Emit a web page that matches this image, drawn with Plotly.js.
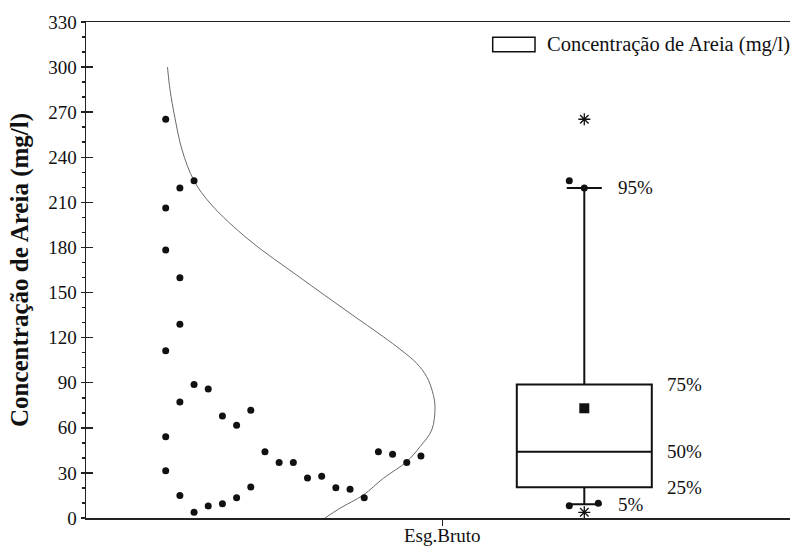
<!DOCTYPE html>
<html>
<head>
<meta charset="utf-8">
<script src="https://cdn.plot.ly/plotly-3.0.1.min.js"></script>
<style>html,body{margin:0;padding:0;background:#fff;}#chart{width:790px;height:547px;}</style>
</head>
<body>
<div id="chart"></div>
<script>
// ---- data ----
const category = "Esg.Bruto";
const seriesName = "Concentração de Areia (mg/l)";
// individual measurements (column index of the side-by-side arrangement, value in mg/l)
const pointCol = [0,1,2,0,0,1,1,0,2,3,1,4,5,6,0,7,8,9,10,11,12,13,14,15,16,17,18,0,1,2,3,4,5,6];
const pointVal = [265.3,219.6,224.4,206.3,178.3,159.9,128.9,111.3,88.9,85.8,77.2,67.9,61.7,71.7,54.1,44.1,37.0,37.0,26.6,27.7,20.2,19.1,13.5,44.1,42.4,37.0,41.2,31.5,14.9,3.8,8.0,9.5,13.5,20.6];
// normal distribution curve (value, horizontal extent in px from plot left)
const curveVal = [300,285,266,245,224.4,208.7,185,160.5,136.2,120.6,111.8,102.9,94,84,74,58.5,47.4,37.5,26.4,15.3,6.5,0];
const curveExt = [81.5,84,89,96,108,125,163,213,264,297.3,315,330.7,340.7,346.5,349,345.7,334,320.7,297.3,277.3,254,239];
// box statistics
const p5 = 9.1, q1 = 20.4, median = 44.1, q3 = 88.9, p95 = 219.6, meanVal = 73.0;
const extremeVals = [265.3, 3.8];            // max / min (asterisks)
const sideDotVals = [224.4, 219.6, 8.2, 9.8]; // points at whisker ends
const sideDotOff = [-15, 0, -15, 14];
const pctLabels = ["95%","75%","50%","25%","5%"];
const pctVals = [p95, q3, median, q1, p5];
const yTicks = [0,30,60,90,120,150,180,210,240,270,300,330];

// ---- layout constants (x axis in px-like units across the plot) ----
const col0 = 79.7, colStep = 14.18;
const catX = 356.5, boxX = 498.3, boxW = 135;
const serif = "Liberation Serif, Times New Roman, serif";

const traces = [
  {
    type: "scatter", mode: "lines",
    x: curveExt, y: curveVal,
    line: {color: "#6a6a6a", width: 1, shape: "spline", smoothing: 1},
    hoverinfo: "skip", showlegend: false
  },
  {
    type: "scatter", mode: "markers",
    x: pointCol.map(c => col0 + c * colStep), y: pointVal,
    marker: {color: "#111", size: 7, symbol: "circle"},
    showlegend: false
  },
  {
    type: "box", name: seriesName,
    x: [boxX], q1: [q1], median: [median], q3: [q3],
    lowerfence: [p5], upperfence: [p95],
    width: boxW, whiskerwidth: 35 / boxW,
    fillcolor: "rgba(255,255,255,0)",
    line: {color: "#111", width: 2},
    boxpoints: false, boxmean: false, showlegend: false
  },
  {
    type: "scatter", mode: "markers",
    x: [boxX], y: [meanVal],
    marker: {color: "#111", size: 10, symbol: "square"},
    showlegend: false
  },
  {
    type: "scatter", mode: "markers",
    x: sideDotOff.map(o => boxX + o), y: sideDotVals,
    marker: {color: "#111", size: 7, symbol: "circle"},
    showlegend: false
  },
  {
    type: "scatter", mode: "markers",
    x: extremeVals.map(() => boxX), y: extremeVals,
    marker: {color: "#111", size: 10, symbol: "asterisk-open", line: {color: "#111", width: 1.3}},
    showlegend: false
  },
  {
    type: "scatter", mode: "markers", x: [boxX], y: [0], yaxis: "y2",
    marker: {opacity: 0}, hoverinfo: "skip", showlegend: false
  }
];

const annotations = pctLabels.map((t, i) => ({
  x: (i === 0 || i === 4) ? 530 : 579, y: pctVals[i],
  xref: "x", yref: "y", text: t, showarrow: false,
  xanchor: "left", yanchor: "middle",
  font: {family: serif, size: 19, color: "#111"}
}));
annotations.push({
  x: 0.652, y: 0.9556, xref: "paper", yref: "paper", text: seriesName,
  showarrow: false, xanchor: "left", yanchor: "middle",
  font: {family: serif, size: 20.5, color: "#111"}
});
annotations.push({
  x: catX, y: -0.036, xref: "x", yref: "paper", text: category,
  showarrow: false, xanchor: "center", yanchor: "middle",
  font: {family: serif, size: 19, color: "#111"}
});

const layout = {
  width: 790, height: 547,
  margin: {l: 86, r: 0, t: 22, b: 29},
  paper_bgcolor: "#fff", plot_bgcolor: "#fff",
  showlegend: false,
  font: {family: serif, color: "#111"},
  xaxis: {
    range: [0, 704], showgrid: false, zeroline: false,
    tickmode: "array", tickvals: [catX], ticktext: [category], showticklabels: false,
    ticks: "outside", ticklen: 6, tickwidth: 1.5, tickcolor: "#222",
    showline: true, linecolor: "#222", linewidth: 1.5, mirror: true
  },
  yaxis: {
    range: [0, 330], showgrid: false, zeroline: false,
    tickmode: "array", tickvals: yTicks,
    ticks: "outside", ticklen: 4, tickwidth: 1.5, tickcolor: "#222",
    minor: {dtick: 10, ticks: "outside", ticklen: 3, tickwidth: 1.5, tickcolor: "#222"},
    showline: true, linecolor: "#222", linewidth: 1.5,
    tickfont: {family: serif, size: 19, color: "#111"},
    title: {text: "Concentração de Areia (mg/l)", standoff: 12,
            font: {family: serif, size: 25, weight: "bold", color: "#111"}}
  },
  yaxis2: {
    range: [0, 330], overlaying: "y", side: "left", anchor: "x",
    showgrid: false, zeroline: false, showline: false, showticklabels: false,
    tickmode: "array", tickvals: yTicks,
    ticks: "inside", ticklen: 7, tickwidth: 1.5, tickcolor: "#222"
  },
  shapes: [{
    type: "rect", xref: "paper", yref: "paper",
    x0: 0.5777, x1: 0.6378, y0: 0.9401, y1: 0.9692,
    line: {color: "#111", width: 1.5}, fillcolor: "rgba(0,0,0,0)"
  }],
  annotations: annotations
};

Plotly.newPlot("chart", traces, layout, {staticPlot: true, displayModeBar: false});
</script>
</body>
</html>
